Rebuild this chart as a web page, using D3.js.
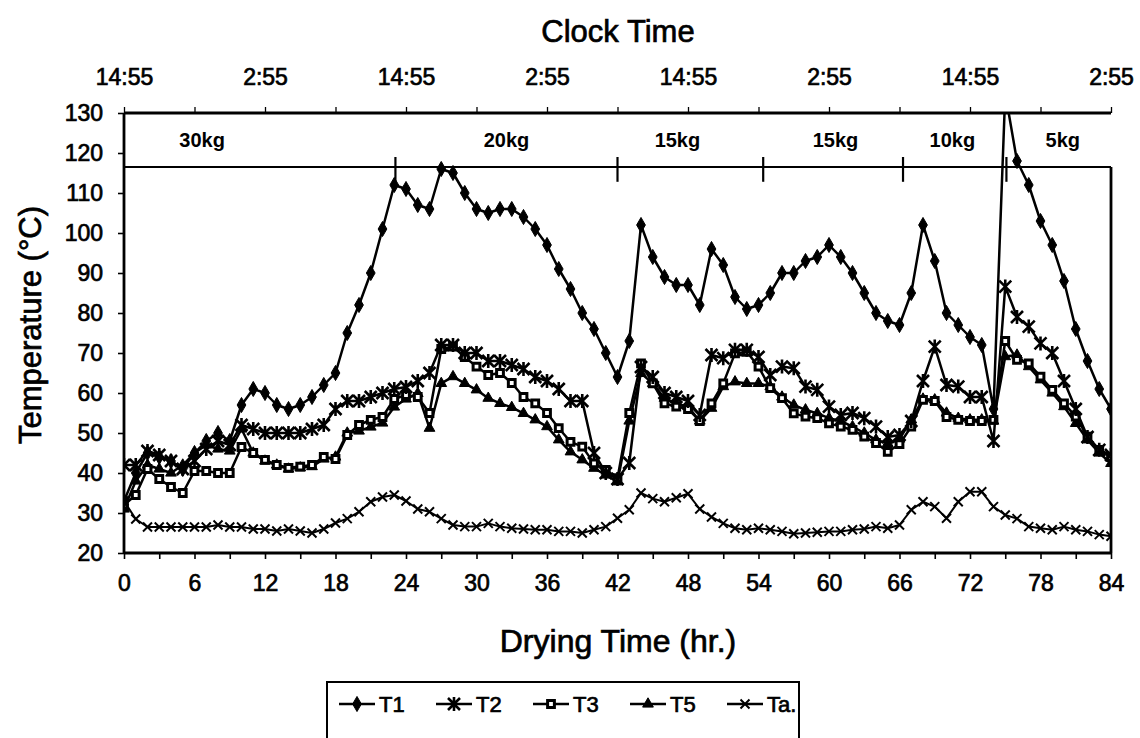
<!DOCTYPE html>
<html>
<head>
<meta charset="utf-8">
<script src="https://cdn.jsdelivr.net/npm/d3@7"></script>
<style>
  html, body { margin: 0; padding: 0; background: #fff; }
  svg { display: block; }
  text { font-family: "Liberation Sans", Arial, sans-serif; fill: #000; }
</style>
</head>
<body>
<svg id="chart" width="1140" height="738"></svg>
<script>
// Drying time (hours since start)
const hours = [0,1,2,3,4,5,6,7,8,9,10,11,12,13,14,15,16,17,18,19,20,21,22,23,24,25,26,27,28,29,
  30,31,32,33,34,35,36,37,38,39,40,41,42,43,44,45,46,47,48,49,50,51,52,53,54,55,56,57,58,59,
  60,61,62,63,64,65,66,67,68,69,70,71,72,73,74,75,76,77,78,79,80,81,82,83,84];

// Temperatures (°C)
const T1 = [33,40,45,44,43,41,45,48,50,48,
  57,61,60,57,56,57,59,62,65,75,
  82,90,101,112,111,107,106,116,115,110,
  106,105,106,106,104,101,97,91,86,80,
  76,70,64,73,102,94,89,87,87,82,
  96,92,84,81,82,85,90,90,93,94,
  97,94,90,85,80,78,77,85,102,93,
  80,77,74,72,56,135,118,112,103,97,
  88,76,68,61,56];
const T2 = [42,42,45.5,44.5,43,41,43,46,48,47,
  52,51,50,50,50,50,51,52,56,58,
  58,59,60,61,61.5,63,65,72,72,70,
  70,68,68,67,66,64,63,61,58,58,
  45,40,38.5,42.5,66.5,64,60,59,58,54.5,
  69.5,68.7,70.8,70.8,69,64.5,66.6,66.2,61.6,60.8,
  56.6,54.5,55,53.7,51.6,49,49.5,53,63,71.6,
  62,61.6,59,59,48,86.6,79,76.6,72.4,70,
  63,56,49,45.8,44.5];
const T3 = [32,34.5,41,38.5,36.5,35,40.5,40.5,40,40,
  46.5,45,43.3,42,41.3,41.6,42,44,43.5,49.5,
  52,53.3,54,58.5,59.5,59,55,71,71.6,69,
  66.6,64.5,65,62.5,59,57.4,55,51.2,47.8,46.6,
  42.4,40.8,38.7,55,67.4,62.4,57.4,56.6,56,53,
  57.4,62.4,69.9,70.3,66.6,61.2,58.7,54.9,54.1,53.7,
  52.4,51.6,50.8,49.1,47.5,45.3,47.2,51.6,58.3,58,
  54,53.3,53,53,53.3,73,68.3,67.4,64.1,60.8,
  57.4,54.1,49.1,45.8,44];
const T5 = [31,38,42,41,40,42,45,47,46,45.5,
  51,45,43,42,41,41.3,41.6,43.5,44,50,
  50.5,51.5,52.5,56.5,58.5,59.9,51.2,62.4,64.1,62.4,
  60.8,58.7,57.4,56.4,54.9,53.3,51.6,48.3,45.3,43.3,
  41.2,39.5,37.8,53,64.9,62.4,58.7,57.4,56.6,53,
  56.2,61.6,62.8,62.4,62.4,61.6,59,57,55.8,54.9,
  53.7,53,51.6,50,48.3,47.4,48.5,53.3,58.5,58.3,
  55,53.7,53.3,53.3,53,69.1,69.5,66.6,63.3,60,
  56.6,52.4,48.3,45,42.4];
const Ta = [33,28.5,26.5,26.5,26.5,26.5,26.5,26.5,27,26.5,
  26.5,26,26,25.5,26,25.5,25,26,27.5,28.6,
  30.3,32.8,34,34.5,33,31,30.3,28.6,27,26.6,
  26.6,27.4,26.6,26.2,26,25.8,25.8,25.4,25.4,25,
  25.8,26.6,28.7,30.8,35,33.6,32.8,33.8,34.8,31,
  29,27.4,26.2,25.8,26.2,25.8,25.4,24.8,25,25.2,
  25.4,25.4,25.8,26,26.6,26.2,27,30.8,32.8,31.6,
  28.7,32.8,35.3,35.3,31.6,29.5,28.6,26.6,26.2,25.8,
  26.6,25.8,25.4,24.6,24.2];

const seriesNames = ["T1", "T2", "T3", "T5", "Ta."];

// Load batches: boundaries (hours) and loads
const loadBounds = [0, 23.1, 42, 54.4, 66.3, 75.1, 84];
const loadNames = ["30kg", "20kg", "15kg", "15kg", "10kg", "5kg"];
const loadTop = 116.5;

// Axis ticks
const yTicks = [20,30,40,50,60,70,80,90,100,110,120,130];
const xLabelTicks = [0,6,12,18,24,30,36,42,48,54,60,66,72,78,84];
const xMinorTicks = [0,3,6,9,12,15,18,21,24,27,30,33,36,39,42,45,48,51,54,57,60,63,66,69,72,75,78,81,84];
const clockTicks = [0,12,24,36,48,60,72,84];
const clockLabels = ["14:55","2:55","14:55","2:55","14:55","2:55","14:55","2:55"];
const clockMinor = [0,6,12,18,24,30,36,42,48,54,60,66,72,78,84];

const svg = d3.select("#chart");
const L = 124, R = 1111, T = 113, B = 553;
const x = d3.scaleLinear().domain([0, 84]).range([L, R]);
const y = d3.scaleLinear().domain([20, 130]).range([B, T]);

svg.append("defs").append("clipPath").attr("id", "plot")
  .append("rect").attr("x", L).attr("y", T).attr("width", R - L).attr("height", B - T);

const ink = "#000";
const tickFont = 23, titleFont = 31, heavy = 0.7;

// Frame: left axis, bottom axis, top (clock) axis, batch band line, right edge
svg.append("line").attr("x1", L).attr("x2", L).attr("y1", T).attr("y2", B)
  .attr("stroke", ink).attr("stroke-width", 2.8);
svg.append("line").attr("x1", L).attr("x2", R).attr("y1", B).attr("y2", B)
  .attr("stroke", ink).attr("stroke-width", 2.8);
svg.append("line").attr("x1", L).attr("x2", R).attr("y1", T).attr("y2", T)
  .attr("stroke", ink).attr("stroke-width", 2.8);
svg.append("line").attr("x1", L).attr("x2", R).attr("y1", y(loadTop)).attr("y2", y(loadTop))
  .attr("stroke", ink).attr("stroke-width", 2);
svg.append("line").attr("x1", R).attr("x2", R).attr("y1", y(loadTop)).attr("y2", B)
  .attr("stroke", ink).attr("stroke-width", 2.8);

function styleTickText(g) {
  g.selectAll(".tick text").attr("font-size", tickFont)
    .attr("font-family", "Liberation Sans, Arial, sans-serif")
    .attr("stroke", ink).attr("stroke-width", heavy);
}

// Y axis
const gy = svg.append("g").attr("transform", `translate(${L},0)`)
  .call(d3.axisLeft(y).tickValues(yTicks).tickSize(6).tickPadding(15));
gy.select(".domain").remove();
gy.selectAll(".tick line").attr("stroke", ink).attr("stroke-width", 1.6);
styleTickText(gy);

// X axis (drying time)
const gxMinor = svg.append("g").attr("transform", `translate(0,${B})`)
  .call(d3.axisBottom(x).tickValues(xMinorTicks).tickSize(6).tickFormat(""));
gxMinor.select(".domain").remove();
gxMinor.selectAll(".tick line").attr("stroke", ink).attr("stroke-width", 1.6);
const gx = svg.append("g").attr("transform", `translate(0,${B})`)
  .call(d3.axisBottom(x).tickValues(xLabelTicks).tickSize(0).tickPadding(22));
gx.select(".domain").remove();
styleTickText(gx);

// Top axis (clock time)
const gtMinor = svg.append("g").attr("transform", `translate(0,${T})`)
  .call(d3.axisTop(x).tickValues(clockMinor).tickSize(6).tickFormat(""));
gtMinor.select(".domain").remove();
gtMinor.selectAll(".tick line").attr("stroke", ink).attr("stroke-width", 1.3);
const gt = svg.append("g").attr("transform", `translate(0,${T})`)
  .call(d3.axisTop(x).tickValues(clockTicks).tickSize(0).tickPadding(28)
    .tickFormat((d, i) => clockLabels[i]));
gt.select(".domain").remove();
styleTickText(gt);

// Axis titles
svg.append("text").attr("x", 618).attr("y", 42).attr("text-anchor", "middle")
  .attr("font-size", titleFont).attr("stroke", ink).attr("stroke-width", heavy).text("Clock Time");
svg.append("text").attr("x", 618).attr("y", 652).attr("text-anchor", "middle")
  .attr("font-size", titleFont + 1).attr("stroke", ink).attr("stroke-width", heavy).text("Drying Time (hr.)");
svg.append("text").attr("transform", "translate(41,325) rotate(-90)").attr("text-anchor", "middle")
  .attr("font-size", titleFont).attr("stroke", ink).attr("stroke-width", heavy).text("Temperature (°C)");

// Batch dividers and load labels
loadBounds.slice(1, -1).forEach(h => {
  svg.append("line").attr("x1", x(h)).attr("x2", x(h)).attr("y1", y(119)).attr("y2", y(112.8))
    .attr("stroke", ink).attr("stroke-width", 2.2);
});
const labelShift = [-4.9, 0, -1.1, 0.2, -0.2, 0.35];
loadNames.forEach((name, i) => {
  const mid = (loadBounds[i] + loadBounds[i + 1]) / 2 + labelShift[i];
  svg.append("text").attr("x", x(mid)).attr("y", y(123.3) + 7).attr("text-anchor", "middle")
    .attr("font-size", 20).attr("font-weight", "bold").text(name);
});

// Marker shapes
function markerPath(kind) {
  if (kind === "diamond") return d3.symbol(d3.symbolDiamond, 66)();
  if (kind === "square") return d3.symbol(d3.symbolSquare, 46)();
  if (kind === "triangle") return d3.symbol(d3.symbolTriangle, 50)();
  if (kind === "star") { const r = 6; return `M${-r},${-r}L${r},${r}M${-r},${r}L${r},${-r}M0,${-r - 1}L0,${r + 1}`; }
  const r = 4.5; return `M${-r},${-r}L${r},${r}M${-r},${r}L${r},${-r}`;
}
function styleMarker(sel, kind) {
  if (kind === "star") sel.attr("fill", "none").attr("stroke", ink).attr("stroke-width", 2.6);
  else if (kind === "cross") sel.attr("fill", "none").attr("stroke", ink).attr("stroke-width", 2);
  else if (kind === "square") sel.attr("fill", "#fff").attr("stroke", ink).attr("stroke-width", 3);
  else sel.attr("fill", ink).attr("stroke", ink).attr("stroke-width", 1);
}

const series = [
  { name: seriesNames[4], values: Ta, kind: "cross", w: 2 },
  { name: seriesNames[3], values: T5, kind: "triangle", w: 2.5 },
  { name: seriesNames[2], values: T3, kind: "square", w: 2.5 },
  { name: seriesNames[1], values: T2, kind: "star", w: 2.5 },
  { name: seriesNames[0], values: T1, kind: "diamond", w: 2.5 }
];

const plot = svg.append("g").attr("clip-path", "url(#plot)");
const line = d3.line().x((d, i) => x(hours[i])).y(d => y(d));

series.forEach(s => {
  plot.append("path").datum(s.values).attr("d", line)
    .attr("fill", "none").attr("stroke", ink).attr("stroke-width", s.w).attr("stroke-linejoin", "round");
  plot.append("g").selectAll("path").data(s.values).join("path")
    .attr("transform", (d, i) => `translate(${x(hours[i])},${y(d)})`)
    .attr("d", markerPath(s.kind))
    .call(sel => styleMarker(sel, s.kind));
});

// Legend
const legendOrder = [
  { name: seriesNames[0], kind: "diamond" },
  { name: seriesNames[1], kind: "star" },
  { name: seriesNames[2], kind: "square" },
  { name: seriesNames[3], kind: "triangle" },
  { name: seriesNames[4], kind: "cross" }
];
const lg = svg.append("g").attr("transform", "translate(327,682)");
lg.append("rect").attr("x", 0).attr("y", 0).attr("width", 472).attr("height", 70)
  .attr("fill", "#fff").attr("stroke", ink).attr("stroke-width", 2);
legendOrder.forEach((it, i) => {
  const g = lg.append("g").attr("transform", `translate(${12 + i * 97},22)`);
  g.append("line").attr("x1", 0).attr("x2", 36).attr("y1", 0).attr("y2", 0)
    .attr("stroke", ink).attr("stroke-width", 2.5);
  g.append("path").attr("transform", "translate(18,0)").attr("d", markerPath(it.kind))
    .call(sel => styleMarker(sel, it.kind));
  g.append("text").attr("x", 40).attr("y", 8).attr("font-size", 22)
    .attr("stroke", ink).attr("stroke-width", heavy).text(it.name);
});
</script>
</body>
</html>
